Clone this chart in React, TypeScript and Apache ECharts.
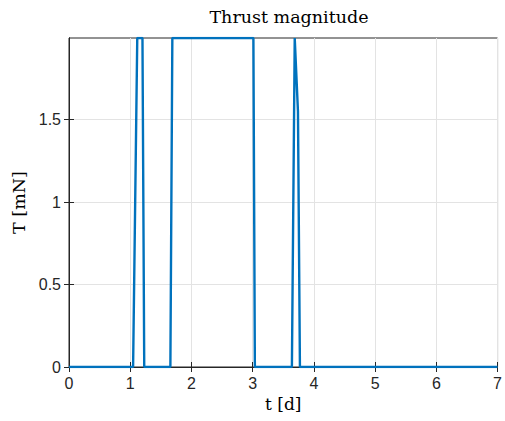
import React, { useEffect, useRef } from "react";
import * as echarts from "echarts";

// time [d]
const timeDays = [0, 1.047, 1.115, 1.2, 1.229, 1.656, 1.688, 3.012, 3.036, 3.641, 3.687, 3.74, 3.772, 7];
// thrust magnitude [mN]
const thrustMN = [0, 0, 1.995, 1.995, 0, 0, 1.995, 1.995, 0, 0, 1.995, 1.55, 0, 0];

const xTicks = [0, 1, 2, 3, 4, 5, 6, 7];
const yTicks = [0, 0.5, 1, 1.5];

const AX = "#262626";
const GRID = "#e3e3e3";
const SANS = "'Liberation Sans', Arial, Helvetica, sans-serif";
const SERIF = "'DejaVu Serif', serif";

export default function App() {
  const ref = useRef<HTMLDivElement>(null);
  useEffect(() => {
    if (!ref.current) return;
    const chart = echarts.init(ref.current, undefined, { renderer: "svg" });
    const data = timeDays.map((t, i) => [t, thrustMN[i]]);
    const tickStyle = { show: true, inside: true, length: 5, lineStyle: { color: AX, width: 1 } };
    const yTickStyle = { ...tickStyle, customValues: yTicks };
    chart.setOption({
      animation: false,
      backgroundColor: "#ffffff",
      title: {
        text: "Thrust magnitude",
        left: 284,
        top: 3,
        textAlign: "center",
        textStyle: { fontFamily: SERIF, fontWeight: "normal", fontSize: 17.5, color: "#000" },
      },
      grid: {
        left: 69,
        right: 6,
        top: 38,
        bottom: 54,
        show: true,
        borderColor: AX,
        borderWidth: 1,
        backgroundColor: "transparent",
      },
      xAxis: [
        {
          type: "value",
          min: xTicks[0],
          max: xTicks[xTicks.length - 1],
          interval: 1,
          name: "t [d]",
          nameLocation: "middle",
          nameGap: 28,
          nameTextStyle: { fontFamily: SERIF, fontSize: 17, color: "#000" },
          axisLine: { show: true, lineStyle: { color: AX, width: 1 } },
          axisTick: tickStyle,
          axisLabel: { fontFamily: SANS, fontSize: 16, color: AX, margin: 8 },
          splitLine: { show: true, lineStyle: { color: GRID, width: 1 } },
        },
        {
          type: "value",
          position: "top",
          min: xTicks[0],
          max: xTicks[xTicks.length - 1],
          interval: 1,
          axisLine: { show: true, lineStyle: { color: AX, width: 1 } },
          axisTick: tickStyle,
          axisLabel: { show: false },
          splitLine: { show: false },
        },
      ],
      yAxis: [
        {
          type: "value",
          min: 0,
          max: 1.995,
          interval: 0.5,
          name: "T [mN]",
          nameLocation: "middle",
          nameGap: 41,
          nameTextStyle: { fontFamily: SERIF, fontSize: 17.5, color: "#000" },
          axisLine: { show: true, lineStyle: { color: AX, width: 1 } },
          axisTick: yTickStyle,
          axisLabel: {
            fontFamily: SANS,
            fontSize: 16,
            color: AX,
            margin: 8,
            customValues: yTicks,
          },
          splitLine: { show: true, lineStyle: { color: GRID, width: 1 } },
        },
        {
          type: "value",
          position: "right",
          min: 0,
          max: 1.995,
          interval: 0.5,
          axisLine: { show: true, lineStyle: { color: AX, width: 1 } },
          axisTick: yTickStyle,
          axisLabel: { show: false },
          splitLine: { show: false },
        },
      ],
      series: [
        {
          type: "line",
          data,
          xAxisIndex: 0,
          yAxisIndex: 0,
          showSymbol: false,
          symbol: "none",
          lineStyle: { color: "#0072BD", width: 2.4 },
          clip: true,
        },
      ],
    });
    return () => chart.dispose();
  }, []);
  return (
    <div
      ref={ref}
      style={{ position: "fixed", left: 0, top: 0, width: 505, height: 421, background: "#fff" }}
    />
  );
}
